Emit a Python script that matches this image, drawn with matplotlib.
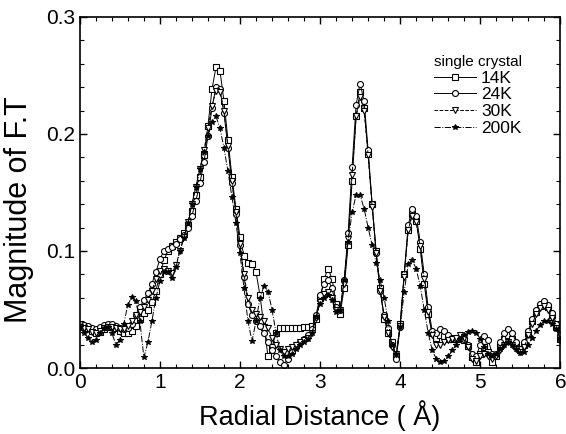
import numpy as np
import matplotlib
matplotlib.use('Agg')
import matplotlib.pyplot as plt
from matplotlib.ticker import MultipleLocator, FormatStrFormatter

plt.rcParams['font.family'] = ['Liberation Sans', 'DejaVu Sans']

# radial distance grid (Angstrom)
r = np.round(np.arange(0, 6.001, 0.05), 2)

k14 = [0.036, 0.035, 0.034, 0.032, 0.030, 0.031, 0.033, 0.035, 0.036, 0.034,
       0.032, 0.030, 0.030, 0.032, 0.036, 0.042, 0.047, 0.050, 0.056, 0.066,
       0.080, 0.092, 0.100, 0.104, 0.108, 0.111, 0.115, 0.122, 0.134, 0.148,
       0.163, 0.182, 0.207, 0.238, 0.257, 0.254, 0.228, 0.195, 0.163, 0.136,
       0.112, 0.096, 0.090, 0.089, 0.082, 0.062, 0.035, 0.010, 0.018, 0.030,
       0.034, 0.034, 0.034, 0.034, 0.034, 0.034, 0.035, 0.035, 0.036, 0.042,
       0.060, 0.076, 0.085, 0.076, 0.055, 0.046, 0.068, 0.105, 0.160, 0.215,
       0.236, 0.222, 0.183, 0.140, 0.100, 0.068, 0.042, 0.030, 0.022, 0.010,
       0.038, 0.080, 0.118, 0.132, 0.126, 0.102, 0.072, 0.046, 0.030, 0.026,
       0.028, 0.027, 0.025, 0.025, 0.025, 0.025, 0.024, 0.019, 0.009, 0.005,
       0.012, 0.018, 0.014, 0.005, 0.010, 0.019, 0.025, 0.028, 0.025, 0.019,
       0.015, 0.020, 0.030, 0.040, 0.048, 0.053, 0.055, 0.052, 0.045, 0.035,
       0.025]

k24 = [0.038, 0.037, 0.036, 0.034, 0.033, 0.035, 0.037, 0.038, 0.038, 0.036,
       0.034, 0.033, 0.034, 0.038, 0.045, 0.052, 0.058, 0.064, 0.072, 0.082,
       0.093, 0.100, 0.102, 0.103, 0.106, 0.110, 0.114, 0.120, 0.130, 0.143,
       0.158, 0.176, 0.198, 0.222, 0.240, 0.238, 0.218, 0.188, 0.158, 0.132,
       0.105, 0.078, 0.055, 0.045, 0.040, 0.036, 0.030, 0.022, 0.015, 0.010,
       0.005, 0.003, 0.008, 0.014, 0.018, 0.022, 0.025, 0.028, 0.033, 0.045,
       0.062, 0.072, 0.075, 0.068, 0.052, 0.050, 0.075, 0.115, 0.172, 0.225,
       0.243, 0.228, 0.186, 0.140, 0.098, 0.066, 0.045, 0.034, 0.020, 0.008,
       0.035, 0.080, 0.122, 0.136, 0.130, 0.108, 0.080, 0.052, 0.032, 0.030,
       0.033, 0.032, 0.028, 0.026, 0.026, 0.026, 0.025, 0.020, 0.012, 0.010,
       0.020, 0.027, 0.024, 0.012, 0.012, 0.022, 0.030, 0.033, 0.030, 0.022,
       0.016, 0.022, 0.032, 0.042, 0.050, 0.055, 0.057, 0.054, 0.047, 0.038,
       0.028]

k30 = [0.035, 0.034, 0.033, 0.031, 0.030, 0.032, 0.034, 0.035, 0.035, 0.034,
       0.033, 0.033, 0.036, 0.040, 0.045, 0.048, 0.052, 0.058, 0.066, 0.076,
       0.083, 0.085, 0.083, 0.081, 0.088, 0.100, 0.112, 0.125, 0.140, 0.155,
       0.170, 0.186, 0.205, 0.224, 0.237, 0.236, 0.220, 0.190, 0.160, 0.133,
       0.106, 0.080, 0.060, 0.050, 0.046, 0.044, 0.040, 0.034, 0.026, 0.020,
       0.016, 0.014, 0.016, 0.018, 0.020, 0.022, 0.024, 0.026, 0.030, 0.043,
       0.056, 0.063, 0.065, 0.060, 0.050, 0.050, 0.072, 0.110, 0.165, 0.215,
       0.232, 0.220, 0.182, 0.138, 0.098, 0.066, 0.044, 0.030, 0.018, 0.012,
       0.036, 0.078, 0.118, 0.130, 0.125, 0.104, 0.076, 0.048, 0.028, 0.020,
       0.020, 0.022, 0.024, 0.025, 0.026, 0.028, 0.026, 0.018, 0.008, 0.006,
       0.010, 0.012, 0.010, 0.008, 0.010, 0.015, 0.020, 0.022, 0.020, 0.016,
       0.014, 0.018, 0.028, 0.038, 0.046, 0.051, 0.053, 0.050, 0.043, 0.034,
       0.024]

k200 = [0.035, 0.030, 0.026, 0.022, 0.024, 0.030, 0.034, 0.035, 0.030, 0.020,
        0.024, 0.038, 0.054, 0.061, 0.057, 0.040, 0.009, 0.022, 0.040, 0.060,
        0.074, 0.082, 0.082, 0.077, 0.086, 0.100, 0.111, 0.124, 0.140, 0.155,
        0.170, 0.185, 0.198, 0.210, 0.215, 0.205, 0.188, 0.168, 0.146, 0.124,
        0.098, 0.068, 0.040, 0.023, 0.040, 0.060, 0.070, 0.065, 0.050, 0.030,
        0.015, 0.010, 0.010, 0.012, 0.016, 0.020, 0.022, 0.025, 0.030, 0.044,
        0.055, 0.060, 0.062, 0.058, 0.048, 0.050, 0.075, 0.108, 0.133, 0.148,
        0.148, 0.136, 0.120, 0.105, 0.090, 0.075, 0.060, 0.040, 0.020, 0.012,
        0.035, 0.065, 0.089, 0.092, 0.085, 0.070, 0.050, 0.030, 0.015, 0.008,
        0.005, 0.006, 0.010, 0.015, 0.020, 0.025, 0.028, 0.031, 0.032, 0.030,
        0.025, 0.018, 0.012, 0.010, 0.012, 0.016, 0.020, 0.022, 0.020, 0.016,
        0.013, 0.014, 0.020, 0.026, 0.032, 0.037, 0.040, 0.040, 0.038, 0.033,
        0.025]

labels = ['14K', '24K', '30K', '200K']

fig = plt.figure(figsize=(5.66, 4.34), dpi=100)
ax = fig.add_axes([0.141, 0.152, 0.849, 0.809])

mk = dict(color='black', lw=0.7, ms=4.3, mew=0.8)
ax.plot(r, k14, '-', marker='s', mfc='white', label=labels[0], **mk)
ax.plot(r, k24, '-', marker='o', mfc='white', label=labels[1], **mk)
ax.plot(r, k30, '--', marker='v', mfc='white', label=labels[2], **mk)
ax.plot(r, k200, '-.', marker='*', mfc='black', label=labels[3], **mk)

ax.set_xlim(0, 6)
ax.set_ylim(0, 0.3)
ax.xaxis.set_major_locator(MultipleLocator(1))
ax.xaxis.set_minor_locator(MultipleLocator(0.2))
ax.yaxis.set_major_locator(MultipleLocator(0.1))
ax.yaxis.set_minor_locator(MultipleLocator(0.02))
ax.yaxis.set_major_formatter(FormatStrFormatter('%.1f'))
ax.tick_params(which='both', direction='in', top=True, right=True, labelsize=15)
ax.tick_params(which='major', length=5, width=1)
ax.tick_params(which='minor', length=3, width=0.8)
for s in ax.spines.values():
    s.set_linewidth(1.2)

ax.set_xlabel('Radial Distance ( Å)', fontsize=19.5, labelpad=6)
ax.set_ylabel('Magnitude of F.T', fontsize=22)
ax.yaxis.set_label_coords(-0.095, 0.45)

leg = ax.legend(title='single crystal', loc='upper right', frameon=False,
                fontsize=12.5, title_fontsize=11, numpoints=1,
                handlelength=2.4, handletextpad=0.3, labelspacing=0.08,
                borderpad=0.2, bbox_to_anchor=(0.945, 0.925))

fig.savefig('out.png', dpi=100)
